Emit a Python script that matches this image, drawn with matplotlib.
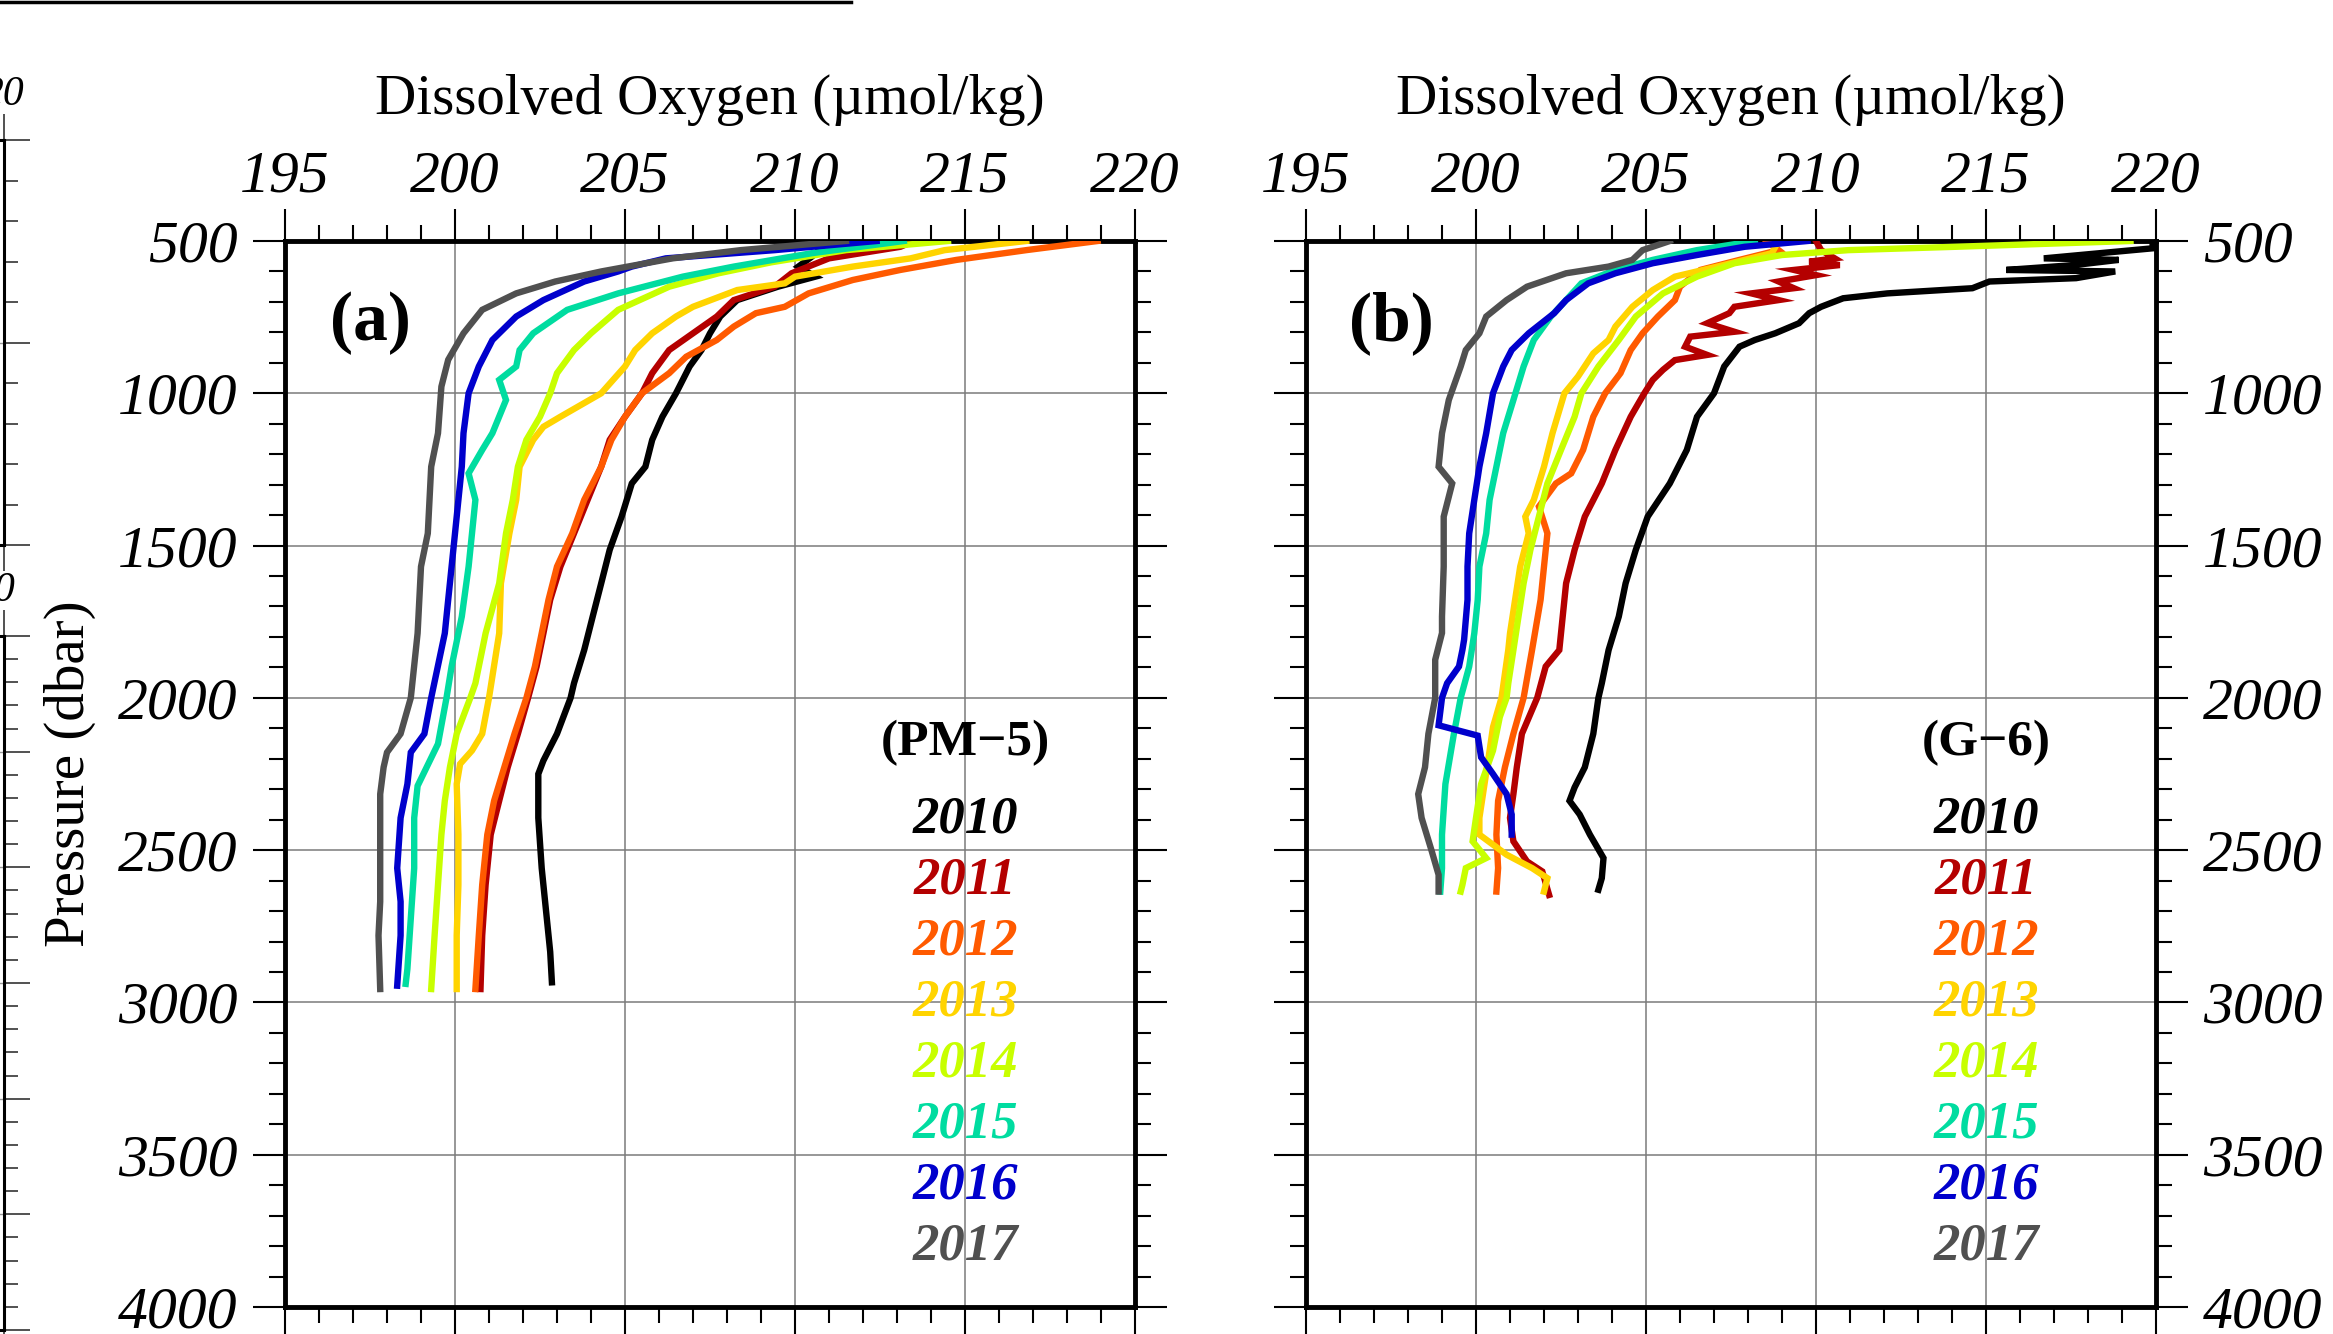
import matplotlib
matplotlib.use("Agg")
import matplotlib.pyplot as plt
from matplotlib.lines import Line2D
from matplotlib.ticker import MultipleLocator

plt.rcParams['font.family'] = ['Liberation Serif', 'DejaVu Serif']

years = ['2010', '2011', '2012', '2013', '2014', '2015', '2016', '2017']
colors = ['#000000', '#b40000', '#ff5a00', '#ffd400', '#c8ff00', '#00dca0', '#0000cc', '#505050']

# ---- (a) PM-5 profiles: pressure (dbar) / dissolved oxygen (umol/kg)
pm5_p_2010 = [500, 551, 584, 617, 650, 694, 748, 803, 858, 912, 1000, 1077, 1153, 1241, 1296, 1405, 1514,
              1624, 1733, 1843, 1952, 2000, 2118, 2206, 2250, 2394, 2559, 2724, 2834, 2934]
pm5_o_2010 = [211.0, 210.5, 210.1, 210.6, 209.5, 208.3, 207.8, 207.5, 207.25, 206.9, 206.5, 206.1, 205.8,
              205.6, 205.2, 204.9, 204.55, 204.3, 204.05, 203.8, 203.5, 203.4, 203.0, 202.6, 202.45, 202.45,
              202.55, 202.7, 202.8, 202.85]
pm5_p_2011 = [500, 519, 557, 606, 650, 694, 748, 803, 858, 934, 1000, 1077, 1153, 1241, 1350, 1460, 1569,
              1678, 1788, 1897, 2000, 2118, 2228, 2338, 2449, 2614, 2780, 2956]
pm5_o_2011 = [213.5, 213.1, 211.0, 209.9, 209.4, 208.2, 207.7, 207.0, 206.3, 205.8, 205.5, 205.0, 204.55,
              204.3, 203.9, 203.5, 203.1, 202.8, 202.6, 202.4, 202.15, 201.85, 201.55, 201.3, 201.05, 200.9,
              200.8, 200.75]
pm5_p_2012 = [500, 530, 562, 595, 628, 672, 716, 737, 781, 825, 880, 934, 1000, 1077, 1153, 1241, 1350,
              1460, 1569, 1678, 1788, 1897, 2000, 2118, 2228, 2338, 2449, 2614, 2780, 2956]
pm5_o_2012 = [218.9, 216.8, 214.75, 213.1, 211.7, 210.4, 209.7, 208.85, 208.2, 207.7, 206.8, 206.3, 205.5,
              205.0, 204.6, 204.3, 203.8, 203.45, 203.0, 202.75, 202.55, 202.35, 202.1, 201.75, 201.45,
              201.15, 200.95, 200.8, 200.7, 200.6]
pm5_p_2013 = [500, 530, 557, 584, 617, 639, 661, 716, 748, 803, 858, 912, 1000, 1077, 1110, 1153, 1241,
              1350, 1460, 1624, 1788, 2000, 2118, 2173, 2217, 2283, 2449, 2614, 2780, 2956]
pm5_o_2013 = [216.8, 214.4, 213.4, 211.7, 210.0, 209.7, 208.3, 207.0, 206.5, 205.8, 205.3, 205.0, 204.3,
              203.1, 202.6, 202.3, 201.9, 201.8, 201.6, 201.35, 201.3, 201.0, 200.8, 200.5, 200.15, 200.05,
              200.1, 200.1, 200.05, 200.05]
pm5_p_2014 = [500, 530, 570, 606, 650, 726, 803, 858, 934, 1000, 1077, 1153, 1241, 1350, 1460, 1624, 1788,
              1952, 2000, 2118, 2228, 2338, 2449, 2614, 2780, 2956]
pm5_o_2014 = [214.5, 211.5, 209.3, 207.75, 206.3, 204.8, 204.0, 203.5, 203.0, 202.8, 202.5, 202.1, 201.85,
              201.7, 201.5, 201.3, 200.9, 200.6, 200.45, 200.05, 199.85, 199.7, 199.6, 199.5, 199.4, 199.3]
pm5_p_2015 = [500, 540, 584, 617, 672, 726, 803, 858, 912, 956, 1022, 1131, 1186, 1263, 1350, 1460, 1569,
              1733, 1897, 2000, 2151, 2289, 2394, 2559, 2724, 2890, 2939]
pm5_o_2015 = [213.2, 210.5, 208.2, 206.7, 204.8, 203.3, 202.3, 201.9, 201.8, 201.3, 201.5, 201.1, 200.8,
              200.4, 200.6, 200.5, 200.4, 200.2, 199.9, 199.75, 199.5, 198.9, 198.8, 198.8, 198.7, 198.6,
              198.55]
pm5_p_2016 = [500, 530, 557, 584, 600, 633, 694, 748, 825, 912, 1000, 1131, 1241, 1350, 1460, 1678, 1788,
              2000, 2118, 2179, 2283, 2394, 2559, 2669, 2780, 2945]
pm5_o_2016 = [212.4, 209.4, 206.2, 205.2, 204.8, 203.8, 202.6, 201.8, 201.1, 200.7, 200.4, 200.25, 200.2,
              200.1, 200.0, 199.8, 199.7, 199.3, 199.1, 198.7, 198.6, 198.4, 198.3, 198.4, 198.4, 198.3]
pm5_p_2017 = [500, 530, 557, 600, 633, 672, 726, 803, 890, 978, 1131, 1241, 1460, 1569, 1788, 2000, 2118,
              2179, 2228, 2316, 2449, 2559, 2669, 2780, 2956]
pm5_o_2017 = [211.5, 208.4, 206.4, 204.3, 202.95, 201.8, 200.8, 200.25, 199.8, 199.6, 199.5, 199.3, 199.2,
              199.0, 198.9, 198.7, 198.4, 198.0, 197.9, 197.8, 197.8, 197.8, 197.8, 197.75, 197.8]

# ---- (b) G-6 profiles
g6_p_2010 = [500, 524, 557, 562, 579, 595, 600, 622, 633, 655, 672, 688, 716, 737, 770, 803, 825, 847, 912,
             1000, 1077, 1186, 1296, 1405, 1514, 1624, 1733, 1843, 1952, 2000, 2118, 2228, 2294, 2338, 2383,
             2449, 2526, 2592, 2630]
g6_o_2010 = [219.9, 219.9, 216.7, 218.9, 217.6, 215.6, 218.8, 217.65, 215.1, 214.6, 212.1, 210.8, 210.15,
             209.8, 209.5, 208.8, 208.2, 207.75, 207.3, 207.0, 206.5, 206.2, 205.7, 205.05, 204.7, 204.4,
             204.2, 203.9, 203.7, 203.6, 203.45, 203.2, 202.9, 202.75, 203.05, 203.35, 203.75, 203.7, 203.6]
g6_p_2011 = [500, 530, 557, 568, 579, 595, 612, 633, 655, 672, 694, 716, 737, 770, 798, 814, 847, 874, 891,
             923, 956, 1000, 1077, 1186, 1296, 1405, 1514, 1624, 1733, 1843, 1897, 2000, 2118, 2228, 2316,
             2394, 2471, 2537, 2570, 2647]
g6_o_2011 = [210.0, 210.15, 210.55, 209.8, 210.7, 209.35, 210.0, 208.9, 209.35, 208.1, 208.9, 207.6, 207.45,
             206.8, 207.6, 206.3, 206.15, 206.8, 205.85, 205.5, 205.2, 204.95, 204.55, 204.1, 203.7, 203.2,
             202.9, 202.65, 202.55, 202.45, 202.05, 201.8, 201.35, 201.2, 201.1, 201.0, 201.1, 201.5,
             201.95, 202.15]
g6_p_2012 = [500, 530, 562, 595, 650, 694, 748, 803, 858, 934, 1000, 1077, 1186, 1263, 1296, 1372, 1460,
             1569, 1678, 1842, 2000, 2118, 2228, 2338, 2449, 2559, 2636]
g6_o_2012 = [208.55, 208.9, 207.75, 206.6, 206.0, 205.85, 205.35, 204.9, 204.55, 204.25, 203.8, 203.45,
             203.15, 202.8, 202.35, 201.85, 202.1, 202.0, 201.9, 201.65, 201.4, 201.1, 200.85, 200.65,
             200.6, 200.65, 200.6]
g6_p_2013 = [500, 540, 584, 617, 661, 716, 781, 825, 869, 945, 1000, 1131, 1241, 1350, 1405, 1460, 1569,
             1678, 1788, 1842, 2000, 2096, 2173, 2283, 2394, 2449, 2515, 2559, 2592, 2636]
g6_o_2013 = [208.9, 208.7, 207.1, 205.85, 205.2, 204.6, 204.1, 203.9, 203.45, 203.0, 202.6, 202.25, 202.0,
             201.7, 201.45, 201.55, 201.3, 201.15, 201.0, 200.95, 200.75, 200.5, 200.4, 200.25, 200.1,
             200.1, 200.9, 201.65, 202.1, 202.0]
g6_p_2014 = [500, 519, 530, 546, 573, 617, 672, 748, 825, 912, 1000, 1077, 1186, 1296, 1405, 1514, 1624,
             1733, 1843, 1952, 2000, 2063, 2173, 2283, 2394, 2471, 2526, 2559, 2614, 2636]
g6_o_2014 = [219.25, 214.1, 210.95, 209.0, 207.6, 206.5, 205.5, 204.7, 204.2, 203.6, 203.1, 202.9, 202.5,
             202.1, 201.85, 201.6, 201.4, 201.25, 201.1, 200.95, 200.9, 200.7, 200.5, 200.15, 200.0, 199.9,
             200.3, 199.7, 199.6, 199.55]
g6_p_2015 = [500, 530, 562, 595, 639, 694, 748, 825, 912, 1022, 1131, 1241, 1350, 1460, 1569, 1678, 1788,
             1897, 2000, 2118, 2283, 2449, 2559, 2636]
g6_o_2015 = [208.2, 206.5, 205.2, 204.1, 203.1, 202.65, 202.2, 201.7, 201.4, 201.1, 200.8, 200.6, 200.4,
             200.3, 200.1, 200.05, 199.95, 199.8, 199.55, 199.35, 199.1, 199.0, 199.0, 198.95]
g6_p_2016 = [500, 519, 546, 573, 606, 639, 694, 737, 803, 858, 912, 1000, 1131, 1241, 1350, 1460, 1569,
             1678, 1809, 1843, 1897, 1952, 2000, 2090, 2124, 2195, 2250, 2316, 2383, 2449]
g6_o_2016 = [209.75, 207.9, 206.5, 205.2, 204.1, 203.3, 202.65, 202.3, 201.55, 201.05, 200.8, 200.5, 200.3,
             200.1, 199.95, 199.8, 199.75, 199.75, 199.65, 199.6, 199.5, 199.15, 199.0, 198.9, 200.05,
             200.15, 200.5, 200.9, 201.05, 201.05]
g6_p_2017 = [500, 530, 562, 584, 606, 650, 694, 748, 803, 858, 912, 1022, 1131, 1241, 1296, 1405, 1569,
             1733, 1787, 1875, 2000, 2118, 2228, 2316, 2394, 2504, 2581, 2636]
g6_o_2017 = [205.7, 204.9, 204.6, 203.9, 202.65, 201.5, 200.9, 200.3, 200.1, 199.7, 199.55, 199.2, 199.0,
             198.9, 199.3, 199.05, 199.05, 199.0, 199.0, 198.8, 198.8, 198.6, 198.5, 198.3, 198.4, 198.7,
             198.9, 198.9]

pm5_profiles = [(pm5_p_2010, pm5_o_2010), (pm5_p_2011, pm5_o_2011), (pm5_p_2012, pm5_o_2012),
                (pm5_p_2013, pm5_o_2013), (pm5_p_2014, pm5_o_2014), (pm5_p_2015, pm5_o_2015),
                (pm5_p_2016, pm5_o_2016), (pm5_p_2017, pm5_o_2017)]
g6_profiles = [(g6_p_2010, g6_o_2010), (g6_p_2011, g6_o_2011), (g6_p_2012, g6_o_2012),
               (g6_p_2013, g6_o_2013), (g6_p_2014, g6_o_2014), (g6_p_2015, g6_o_2015),
               (g6_p_2016, g6_o_2016), (g6_p_2017, g6_o_2017)]

W, H = 2333, 1334
fig = plt.figure(figsize=(W / 100, H / 100), dpi=100)


def px_axes(left, top, right, bottom):
    return fig.add_axes([left / W, 1 - bottom / H, (right - left) / W, (bottom - top) / H])


def style_panel(ax, labels_right):
    ax.set_xlim(195, 220)
    ax.set_ylim(4000, 500)
    ax.set_xticks([195, 200, 205, 210, 215, 220], ['195', '200', '205', '210', '215', '220'],
                  fontstyle='italic')
    ax.set_yticks([500, 1000, 1500, 2000, 2500, 3000, 3500, 4000],
                  ['500', '1000', '1500', '2000', '2500', '3000', '3500', '4000'], fontstyle='italic')
    ax.xaxis.set_minor_locator(MultipleLocator(1))
    ax.yaxis.set_minor_locator(MultipleLocator(100))
    ax.tick_params(which='both', direction='out', top=True, bottom=True, left=True, right=True,
                   labeltop=True, labelbottom=False, labelleft=not labels_right, labelright=labels_right,
                   width=1.5, labelsize=43)
    ax.tick_params(axis='x', pad=3)
    ax.tick_params(axis='y', pad=11)
    ax.tick_params(which='major', length=23)
    ax.tick_params(which='minor', length=11.5)
    ax.grid(True, which='major', color='#7a7a7a', lw=1.1)
    ax.set_axisbelow(True)
    for s in ax.spines.values():
        s.set_linewidth(3.5)
    ax.xaxis.set_label_position('top')
    ax.set_xlabel('Dissolved Oxygen (\u00b5mol/kg)', fontsize=41, labelpad=27)


def draw_panel(ax, profiles, tag, site):
    for (p, o), c in zip(profiles, colors):
        ax.plot(o, p, color=c, lw=4.6, solid_joinstyle='miter', zorder=3)
    ax.text(197.5, 770, tag, fontsize=50, fontweight='bold', ha='center', va='center')
    ax.text(215, 2150, site, fontsize=37, fontweight='bold', ha='center', va='center')
    for i, (yr, c) in enumerate(zip(years, colors)):
        ax.text(215, 2400 + 200 * i, yr, color=c, fontsize=38, fontweight='bold', fontstyle='italic',
                ha='center', va='center')


ax_a = px_axes(285, 241, 1135, 1307)
style_panel(ax_a, labels_right=False)
draw_panel(ax_a, pm5_profiles, '(a)', '(PM\u22125)')
ax_a.set_ylabel('Pressure (dbar)', fontsize=41, labelpad=16)

ax_b = px_axes(1306, 241, 2156, 1307)
style_panel(ax_b, labels_right=True)
draw_panel(ax_b, g6_profiles, '(b)', '(G\u22126)')

# neighbouring panels cut off at the left edge
for top, bottom, ymax, xlab in [(140, 545, 1000, '20'), (636, 1330, 3000, '0')]:
    axp = px_axes(-596, top, 4, bottom)
    axp.set_xlim(0, 20)
    axp.set_ylim(ymax, 0)
    axp.set_xticks([20], [xlab], fontstyle='italic')
    axp.set_yticks(list(range(0, ymax + 1, 500)), [])
    axp.yaxis.set_minor_locator(MultipleLocator(100))
    axp.tick_params(which='both', direction='out', top=True, bottom=True, left=False, right=True,
                    labeltop=True, labelbottom=False, labelleft=False, width=1.2, labelsize=30, pad=0,
                    color='#333333')
    axp.tick_params(which='major', length=19)
    axp.tick_params(which='minor', length=10)
    axp.grid(True, which='major', axis='y', color='#9a9a9a', lw=1.0)
    for s in axp.spines.values():
        s.set_linewidth(2.2)
    if bottom > H:
        axp.spines['bottom'].set_visible(False)

fig.add_artist(Line2D([0, 851 / W], [1 - 1.5 / H, 1 - 1.5 / H], color='black', lw=2.5,
                      transform=fig.transFigure))

fig.savefig('out.png', dpi=100)
